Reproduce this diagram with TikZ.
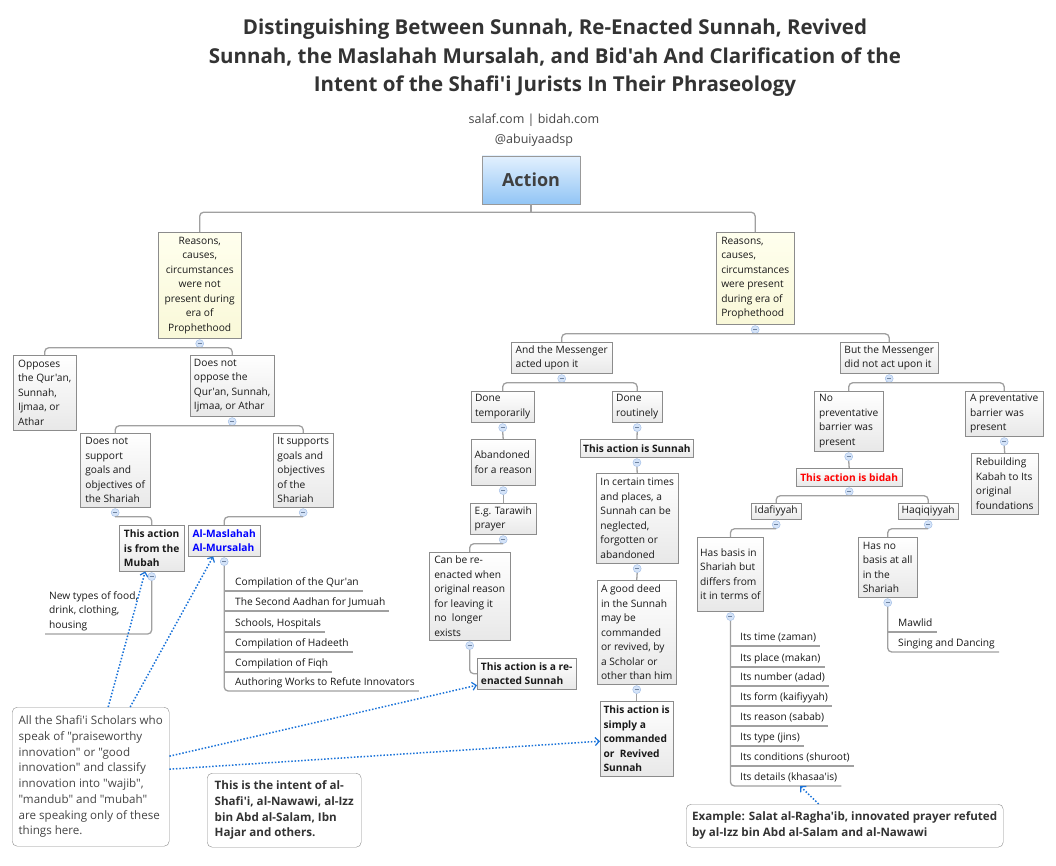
\documentclass[tikz,border=0pt]{standalone}
\usepackage{fontspec}
\setmainfont{Open Sans}[Ligatures=TeXOff]
\usetikzlibrary{positioning,arrows.meta}

\definecolor{linegray}{HTML}{A0A0A0}
\definecolor{boxgray}{HTML}{8C8C8C}
\definecolor{foldfill}{HTML}{D4E3F8}
\definecolor{foldline}{HTML}{9DBBE6}
\definecolor{relblue}{HTML}{1A73D9}
\definecolor{notegray}{HTML}{454545}
\definecolor{yellowtop}{HTML}{FFFFEE}
\definecolor{yellowbottom}{HTML}{F9F8D8}
\definecolor{actiontop}{HTML}{E2F0FE}
\definecolor{actionbottom}{HTML}{92C5F5}

\newcommand\topicfont{\fontsize{10.2}{14.5}\selectfont}
\newcommand\notefont{\fontsize{11.6}{15.7}\selectfont}

\tikzset{
  topic/.style={draw=boxgray, top color=white, bottom color=black!9, anchor=north west,
    align=left, inner xsep=3pt, inner ysep=2pt, font=\topicfont, text=black!90},
  bold topic/.style={topic, font=\topicfont\bfseries},
  yellow topic/.style={topic, top color=yellowtop, bottom color=yellowbottom},
  dims/.style 2 args={minimum width=#1pt, minimum height=#2pt},
  fold/.style={circle, draw=foldline, fill=foldfill, minimum size=8pt, inner sep=0pt,
    path picture={\draw[foldline!70!black, line width=0.7pt]
      ([xshift=-2pt]path picture bounding box.center) -- ([xshift=2pt]path picture bounding box.center);}},
  conn/.style={draw=linegray, line width=1.3pt, rounded corners=4pt},
  leaf/.style={anchor=south west, inner xsep=4pt, inner ysep=2.5pt, text height=7.5pt,
    text depth=2.5pt, font=\topicfont, text=black!90},
  note/.style={draw=boxgray, fill=white, rounded corners=5pt, anchor=north west,
    align=left, inner sep=4pt, font=\notefont, text=notegray},
  rel/.style={draw=relblue, line width=1.5pt, dash pattern=on 1.5pt off 1.8pt,
    -{Straight Barb[length=4pt, width=8pt, line width=1.2pt]}}
}

\begin{document}
\begin{tikzpicture}[x=1pt, y=-1pt]
    \fill[white] (0,0) rectangle (1056,866);
    \useasboundingbox (0,0) rectangle (1056,866);

    % heading
    \node[font=\bfseries\fontsize{20.5}{28.5}\selectfont, text=black!80, align=center] (title) at (555,58)
        {Distinguishing Between Sunnah, Re-Enacted Sunnah, Revived\\Sunnah, the Maslahah Mursalah, and Bid'ah And Clarification of the\\Intent of the Shafi'i Jurists In Their Phraseology};
    \node[font=\fontsize{12.5}{20}\selectfont, text=notegray, align=center] (site) at (534,130)
        {salaf.com | bidah.com\\@abuiyaadsp};
    \node[draw=black!40, top color=actiontop, bottom color=actionbottom, dims={98}{48},
        font=\fontsize{18}{20}\selectfont\bfseries, text=black!75] (action) at (531,180) {Action};

    % left half
    \node[yellow topic, align=center, dims={83}{106}] (yl) at (158,232)
        {Reasons,\\causes,\\circumstances\\were not\\present during\\era of\\Prophethood};
    \node[topic, dims={63}{75}] (opp) at (13,355) {Opposes\\the Qur'an,\\Sunnah,\\Ijmaa, or\\Athar};
    \node[topic, dims={84}{61}] (nopp) at (190,355) {Does not\\oppose the\\Qur'an, Sunnah,\\Ijmaa, or Athar};
    \node[topic, dims={70}{74}] (nsup) at (80,433) {Does not\\support\\goals and\\objectives of\\the Shariah};
    \node[topic, dims={60}{74}] (sup) at (273,433) {It supports\\goals and\\objectives\\of the\\Shariah};
    \node[bold topic, dims={65}{46}] (mubah) at (119,525) {This action\\is from the\\Mubah};
    \node[bold topic, text=blue, dims={72}{31}] (masl) at (188,525) {Al-Maslahah\\Al-Mursalah};
    \node[anchor=south west, align=left, inner xsep=4pt, inner ysep=3pt, font=\topicfont, text=black!90] (newtypes) at (45,634)
        {New types of food,\\drink, clothing,\\housing};
    \node[leaf] (m1) at (231,591) {Compilation of the Qur'an};
    \node[leaf] (m2) at (231,611) {The Second Aadhan for Jumuah};
    \node[leaf] (m3) at (231,632) {Schools, Hospitals};
    \node[leaf] (m4) at (231,652) {Compilation of Hadeeth};
    \node[leaf] (m5) at (231,672) {Compilation of Fiqh};
    \node[leaf] (m6) at (231,691) {Authoring Works to Refute Innovators};

    \node[note, dims={157}{139}] (notes) at (12,707)
        {All the Shafi'i Scholars who\\speak of "praiseworthy\\innovation" or "good\\innovation" and classify\\innovation into "wajib",\\"mandub" and "mubah"\\are speaking only of these\\things here.};
    \node[note, font=\notefont\bfseries, text=black!80, dims={154}{74}] (intent) at (207,773)
        {This is the intent of al-\\Shafi'i, al-Nawawi, al-Izz\\bin Abd al-Salam, Ibn\\Hajar and others.};

    % right half
    \node[yellow topic, dims={78}{92}] (yr) at (716,232)
        {Reasons,\\causes,\\circumstances\\were present\\during era of\\Prophethood};
    \node[topic, dims={101}{31}] (msgyes) at (511,342) {And the Messenger\\acted upon it};
    \node[topic, dims={98}{31}] (msgno) at (840,342) {But the Messenger\\did not act upon it};
    \node[topic, dims={63}{31}] (temp) at (471,391) {Done\\temporarily};
    \node[topic, dims={50}{31}] (rout) at (612,391) {Done\\routinely};
    \node[topic, dims={64}{46}] (aband) at (471,439) {Abandoned\\for a reason};
    \node[topic, dims={66}{31}] (tara) at (470,503) {E.g. Tarawih\\prayer};
    \node[topic, dims={81}{88}] (canbe) at (429,552)
        {Can be re-\\enacted when\\original reason\\for leaving it\\no\ \ longer\\exists};
    \node[bold topic, dims={99}{31}] (reen) at (477,658) {This action is a re-\\enacted Sunnah};
    \node[bold topic, dims={113}{18}] (sunnah) at (580,439) {This action is Sunnah};
    \node[topic, dims={82}{90}] (certain) at (596,473)
        {In certain times\\and places, a\\Sunnah can be\\neglected,\\forgotten or\\abandoned};
    \node[topic, dims={79}{104}] (good) at (597,580)
        {A good deed\\in the Sunnah\\may be\\commanded\\or revived, by\\a Scholar or\\other than him};
    \node[bold topic, dims={73}{75}] (revived) at (600,701)
        {This action is\\simply a\\commanded\\or\ \ Revived\\Sunnah};

    \node[topic, dims={69}{60}] (nobar) at (814,391) {No\\preventative\\barrier was\\present};
    \node[topic, dims={78}{45}] (bar) at (965,391) {A preventative\\barrier was\\present};
    \node[topic, dims={67}{61}] (kabah) at (971,453) {Rebuilding\\Kabah to Its\\original\\foundations};
    \node[bold topic, text=red, dims={106}{18}] (bidah) at (796,468) {This action is bidah};
    \node[topic, dims={50}{16}] (idaf) at (751,503) {Idafiyyah};
    \node[topic, dims={60}{16}] (haq) at (898,503) {Haqiqiyyah};
    \node[topic, dims={65}{74}] (hasb) at (697,537) {Has basis in\\Shariah but\\differs from\\it in terms of};
    \node[topic, dims={59}{60}] (hasno) at (858,537) {Has no\\basis at all\\in the\\Shariah};
    \node[leaf] (mawlid) at (894,632) {Mawlid};
    \node[leaf] (singing) at (894,652) {Singing and Dancing};
    \node[leaf] (i1) at (736,646) {Its time (zaman)};
    \node[leaf] (i2) at (736,667) {Its place (makan)};
    \node[leaf] (i3) at (736,686) {Its number (adad)};
    \node[leaf] (i4) at (736,706) {Its form (kaifiyyah)};
    \node[leaf] (i5) at (736,726) {Its reason (sabab)};
    \node[leaf] (i6) at (736,746) {Its type (jins)};
    \node[leaf] (i7) at (736,766) {Its conditions (shuroot)};
    \node[leaf] (i8) at (736,786) {Its details (khasaa'is)};
    \node[note, font=\notefont\bfseries, text=black!80, dims={317}{43}] (example) at (686,804)
        {Example: Salat al-Ragha'ib, innovated prayer refuted\\by al-Izz bin Abd al-Salam and al-Nawawi};

    % fold markers
    \foreach \b in {yl, yr, nopp, nsup, sup, mubah, masl, msgyes, msgno, temp, rout, aband, tara,
                    canbe, sunnah, certain, good, nobar, bar, bidah, idaf, haq, hasb, hasno}
        \node[fold, below=1pt of \b] (f\b) {};

    % branches
    \coordinate (actbus) at ([yshift=-8pt]action.south);
    \draw[conn] (action.south) -- (actbus);
    \draw[conn] (yl.north) |- (actbus) -| (yr.north);
    \draw[conn] (opp.north) |- (fyl.south) -| (nopp.north);
    \draw[conn] (nsup.north) |- (fnopp.south) -| (sup.north);
    \draw[conn] (fnsup.south) -| (mubah.north);
    \draw[conn] (fsup.south) -| (masl.north);
    \draw[conn] (fmubah.south) |- (newtypes.south west);
    \draw[conn] (fmasl.south) |- (m6.south east);
    \foreach \m in {m1, m2, m3, m4, m5}
        \draw[conn] (\m.south -| fmasl) -- (\m.south east);

    \draw[conn] (msgyes.north) |- (fyr.south) -| (msgno.north);
    \draw[conn] (temp.north) |- (fmsgyes.south) -| (rout.north);
    \draw[conn] (ftemp.south) -- (aband.north);
    \draw[conn] (faband.south) -- (tara.north);
    \draw[conn] (ftara.south) -| (canbe.north);
    \draw[conn] (fcanbe.south) |- (reen.west);
    \draw[conn] (frout.south) -- (sunnah.north);
    \draw[conn] (fsunnah.south) -- (certain.north);
    \draw[conn] (fcertain.south) -- (good.north);
    \draw[conn] (fgood.south) -- (revived.north);

    \draw[conn] (nobar.north) |- (fmsgno.south) -| (bar.north);
    \draw[conn] (fnobar.south) -- (bidah.north);
    \draw[conn] (fbar.south) -- (kabah.north);
    \draw[conn] (idaf.north) |- (fbidah.south) -| (haq.north);
    \draw[conn] (fidaf.south) -| (hasb.north);
    \draw[conn] (fhaq.south) -| (hasno.north);
    \draw[conn] (fhasno.south) |- (singing.south east);
    \draw[conn] (mawlid.south -| fhasno) -- (mawlid.south east);
    \draw[conn] (fhasb.south) |- (i8.south east);
    \foreach \i in {i1, i2, i3, i4, i5, i6, i7}
        \draw[conn] (\i.south -| fhasb) -- (\i.south east);

    % relationships
    \draw[rel] ([xshift=17.5pt]notes.north) -- ([xshift=-6.5pt]mubah.south);
    \draw[rel] ([xshift=39.5pt]notes.north) -- ([xshift=-11pt]masl.south);
    \draw[rel] ([yshift=20.5pt]notes.east) -- ([yshift=-11.5pt]reen.west);
    \draw[rel] ([yshift=7.5pt]notes.east) -- ([yshift=-2.5pt]revived.west);
    \draw[rel] ([xshift=-26pt]example.north) -- ([xshift=64pt]i8.south west);
\end{tikzpicture}
\end{document}
